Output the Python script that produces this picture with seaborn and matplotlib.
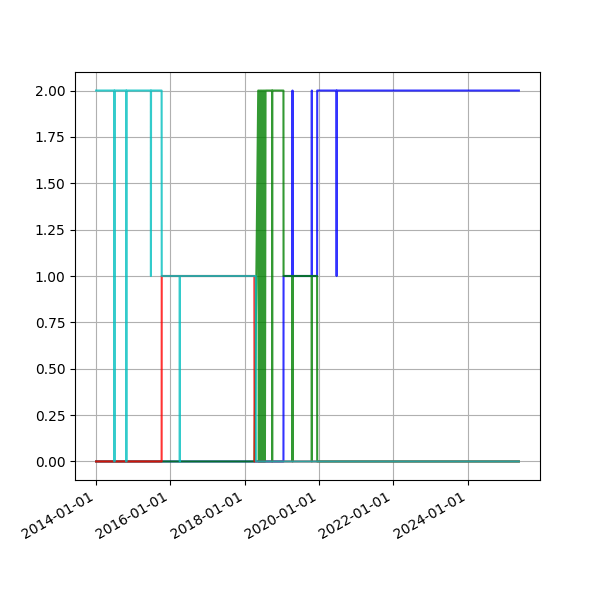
import matplotlib
matplotlib.use('Agg')
import matplotlib.pyplot as plt
import matplotlib.dates as mdates
import pandas as pd
import seaborn as sns

# ─────────────────────────────────────────────
# DATA  (state level 0/1/2 per series)
# ─────────────────────────────────────────────
blue_dates = ['2014-01-01', '2019-01-17', '2019-01-18', '2019-04-15', '2019-04-16',
              '2019-04-17', '2019-10-22', '2019-10-23', '2019-10-24', '2019-12-14',
              '2019-12-15', '2020-06-22', '2020-06-23', '2020-06-24', '2025-05-20']
blue_vals = [0, 0, 1, 1, 2, 1, 1, 2, 1, 1, 2, 2, 1, 2, 2]

green_dates = ['2014-01-01', '2018-04-07', '2018-05-14', '2018-05-20', '2018-05-26',
               '2018-06-01', '2018-06-07', '2018-06-13', '2018-06-19', '2018-06-25',
               '2018-07-01', '2018-07-07', '2018-07-13', '2018-07-19', '2018-07-25',
               '2018-09-27', '2018-09-28', '2018-09-29', '2019-01-17', '2019-01-18',
               '2019-04-15', '2019-04-16', '2019-04-17', '2019-10-22', '2019-10-23',
               '2019-10-24', '2019-12-14', '2019-12-15', '2025-05-20']
green_vals = [0, 0, 2, 0, 2, 0, 2, 0, 2, 0, 2, 0, 2, 0, 2,
              2, 0, 2, 2, 1, 1, 0, 1, 1, 0, 1, 1, 0, 0]

red_dates = ['2014-01-01', '2015-10-07', '2015-10-08', '2018-04-06', '2018-04-07',
             '2025-05-20']
red_vals = [0, 0, 1, 1, 0, 0]

cyan_dates = ['2014-01-01', '2014-06-29', '2014-06-30', '2014-07-01', '2014-10-24',
              '2014-10-25', '2014-10-26', '2015-06-23', '2015-06-24', '2015-06-25',
              '2015-10-07', '2015-10-08', '2016-04-02', '2016-04-03', '2016-04-04',
              '2018-04-20', '2018-04-21', '2025-05-20']
cyan_vals = [2, 2, 0, 2, 2, 0, 2, 2, 1, 2, 2, 1, 1, 0, 1, 1, 0, 0]

series = [
    (blue_dates, blue_vals, 'b'),
    (green_dates, green_vals, 'g'),
    (red_dates, red_vals, 'r'),
    (cyan_dates, cyan_vals, 'c'),
]

# ─────────────────────────────────────────────
# PLOT
# ─────────────────────────────────────────────
fig, ax = plt.subplots(figsize=(6, 6), dpi=100)

for dates, vals, col in series:
    sns.lineplot(x=pd.to_datetime(dates), y=vals, color=col, alpha=0.8,
                 estimator=None, sort=False, linewidth=1.5, ax=ax)

ax.xaxis.set_major_locator(mdates.YearLocator(2))
ax.xaxis.set_major_formatter(mdates.DateFormatter('%Y-%m-%d'))
ax.grid(True)
ax.set_xlabel('')
ax.set_ylabel('')
fig.autofmt_xdate()

fig.savefig('out.png', dpi=100)
plt.close(fig)
